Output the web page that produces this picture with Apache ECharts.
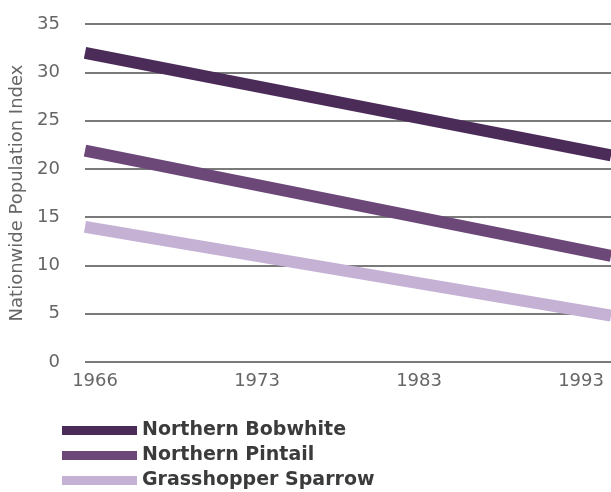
<!DOCTYPE html>
<html>
<head>
<meta charset="utf-8">
<script src="https://cdn.jsdelivr.net/npm/echarts@6/dist/echarts.min.js"></script>
<style>
html, body { margin: 0; padding: 0; background: #fff; }
#chart { width: 611px; height: 492px; }
</style>
</head>
<body>
<div id="chart"></div>
<script>
// x label slots (index 0..3) and their text
var xLabels = ['1966', '1973', '1983', '1993'];
var xSlots = [0, 1, 2, 3];
// line ends in label-slot units (left edge of plot, right edge of picture)
var lineX = [-0.062, 3.185];

var seriesNames = ['Northern Bobwhite', 'Northern Pintail', 'Grasshopper Sparrow'];
var bobwhite = [32, 21.4];
var pintail = [21.9, 11.0];
var sparrow = [14, 4.8];
var seriesColors = ['#4b2b58', '#6c4879', '#c4b1d4'];

function pairs(vals) {
	var out = [];
	for (var i = 0; i < vals.length; i++) {
		out.push([lineX[i], vals[i]]);
	}
	return out;
}

var chart = echarts.init(document.getElementById('chart'));
var option = {
	animation: false,
	color: seriesColors,
	grid: {
		left: 85,
		right: 0,
		top: 24,
		bottom: 130
	},
	legend: {
		orient: 'vertical',
		left: 62,
		top: 421,
		height: 80,
		padding: 0,
		icon: 'rect',
		itemWidth: 75,
		itemHeight: 9,
		itemGap: 6,
		data: seriesNames,
		textStyle: {
			fontFamily: 'DejaVu Sans',
			fontWeight: 'bold',
			fontSize: 19,
			color: '#3b3b3b'
		}
	},
	xAxis: {
		type: 'value',
		min: lineX[0],
		max: lineX[1],
		axisLine: { show: false },
		axisTick: { show: false },
		splitLine: { show: false },
		axisLabel: {
			customValues: xSlots,
			margin: 10,
			fontFamily: 'DejaVu Sans',
			fontSize: 18,
			color: '#666',
			formatter: function(v) {
				return xLabels[Math.round(v)];
			}
		}
	},
	yAxis: {
		type: 'value',
		min: 0,
		max: 35,
		interval: 5,
		name: 'Nationwide Population Index',
		nameLocation: 'middle',
		nameGap: 58,
		nameTextStyle: {
			fontFamily: 'DejaVu Sans',
			fontSize: 18,
			color: '#666'
		},
		axisLine: { show: false },
		axisTick: { show: false },
		axisLabel: {
			margin: 25,
			fontFamily: 'DejaVu Sans',
			fontSize: 18,
			color: '#666'
		},
		splitLine: {
			lineStyle: { color: '#7a7a7a', width: 2 }
		}
	},
	series: [
		{ name: seriesNames[0], type: 'line', data: pairs(bobwhite), symbol: 'none', lineStyle: { width: 12 } },
		{ name: seriesNames[1], type: 'line', data: pairs(pintail), symbol: 'none', lineStyle: { width: 12 } },
		{ name: seriesNames[2], type: 'line', data: pairs(sparrow), symbol: 'none', lineStyle: { width: 12 } }
	]
};
chart.setOption(option);
</script>
</body>
</html>
